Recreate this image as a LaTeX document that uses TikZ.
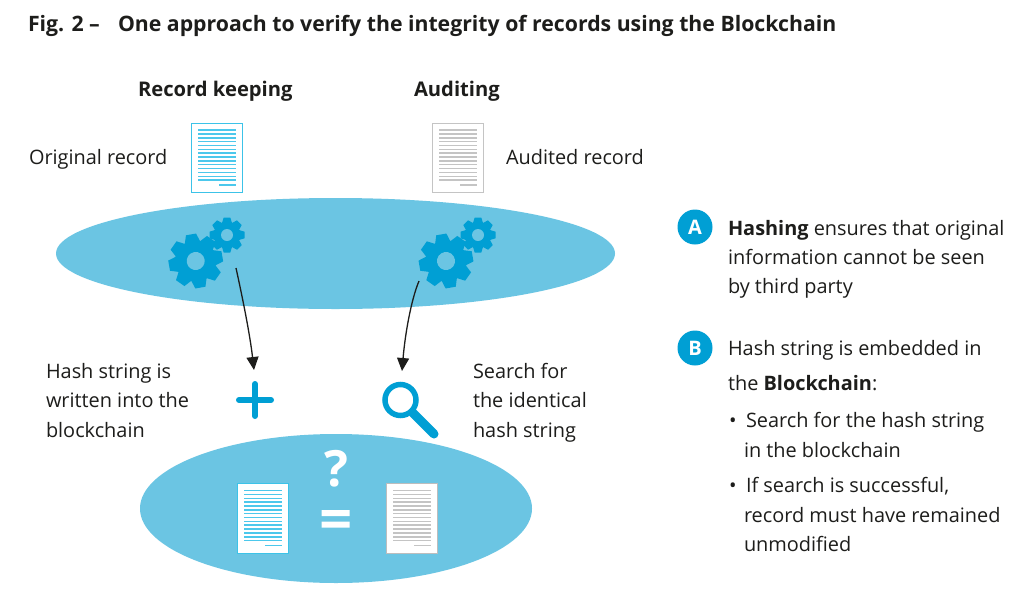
\documentclass[tikz,border=0pt]{standalone}
\usepackage{fontspec}
\setmainfont{Open Sans}
\usetikzlibrary{shapes.geometric,arrows.meta}
\definecolor{lagoon}{HTML}{6BC5E3}
\definecolor{deepblue}{HTML}{009FD4}
\definecolor{linecyan}{HTML}{3CC3E8}
\definecolor{linesoft}{HTML}{4CC8EC}
\definecolor{greyline}{HTML}{BDBDBD}
\definecolor{greysoft}{HTML}{C4C4C4}
\definecolor{inktext}{HTML}{1D1D1B}
\tikzset{
 blob/.style={ellipse,fill=lagoon,draw=none,inner sep=0pt},
 txt/.style={anchor=base west,inner sep=0pt,outer sep=0pt,text=inktext,font=\fontsize{19.9}{29.5}\selectfont},
 head/.style={txt,font=\fontsize{20.2}{29}\selectfont\bfseries},
 ttl/.style={txt,font=\fontsize{21.25}{26}\selectfont\bfseries},
 badge/.style={circle,fill=deepblue,text=white,minimum size=35pt,inner sep=0pt,font=\fontsize{20}{24}\selectfont\bfseries},
 flow/.style={draw=inktext,line width=1.3pt,-{Triangle[length=13pt,width=12pt]}},
 icon/.style={draw=deepblue,line cap=round}
}
% doc{name}{x}{y}{frame}{lines}
\newcommand{\docpage}[5]{%
 \node[draw=#4,line width=1.3pt,fill=white,minimum width=51pt,minimum height=69.5pt,inner sep=0pt,anchor=north west] (#1) at (#2,#3) {};
 \foreach \k in {0,...,13}{%
  \fill[#5] (#2+7,#3+6.8+\k*3.85) rectangle (#2+45,#3+8.3+\k*3.85);}
 \fill[#5] (#2+28,#3+61.8) rectangle (#2+45,#3+63.3);
}
% gear{cx}{cy}{body}{outer}{hole}{rot}
\newcommand{\gearicon}[6]{%
 \begin{scope}[shift={(#1,#2)},rotate=#6]
  \fill[deepblue] (0,0) circle[radius=#3];
  \foreach \a in {0,45,...,315}{
   \fill[deepblue,rotate=\a,line join=round] (-#4*0.29,#3*0.9) -- (-#4*0.19,#4) -- (#4*0.19,#4) -- (#4*0.29,#3*0.9) -- cycle;}
  \fill[lagoon] (0,0) circle[radius=#5];
 \end{scope}}
\begin{document}
\begin{tikzpicture}[x=1pt,y=-1pt]
\useasboundingbox (0,0) rectangle (1023,603);
\fill[white] (0,0) rectangle (1023,603);
\node[ttl] (figno) at (28,31) {Fig. 2 –};
\node[ttl] (title) at (118,31) {One approach to verify the integrity of records using the Blockchain};
\node[head] (rk) at (138,96) {Record keeping};
\node[head] (au) at (414,96) {Auditing};
\node[txt] (orig) at (29,164) {Original record};
\node[txt] (audr) at (506,164) {Audited record};

\node[blob,minimum width=559pt,minimum height=111pt] (top) at (335.5,253.5) {};
\node[blob,minimum width=392pt,minimum height=149pt] (bot) at (336,508.5) {};

\docpage{d1}{190.5}{122.5}{linecyan}{linesoft}
\docpage{d2}{431.5}{122.5}{greysoft}{greysoft}
\docpage{d3}{237}{483}{linecyan}{linesoft}
\docpage{d4}{385.5}{483}{greyline}{greysoft}

\gearicon{195.7}{261}{20.5}{27}{9}{10}
\gearicon{227}{235}{13}{17.5}{6}{0}
\gearicon{446}{261}{20.5}{27}{9}{10}
\gearicon{478}{235}{13}{17.5}{6}{0}

\coordinate (g1) at (236,268);
\coordinate (g2) at (419,281);
\node[inner sep=0pt,minimum size=36pt] (plus) at (255,400) {};
\draw[icon,line width=6pt] (255,384) -- (255,416) (239,400) -- (271,400);
\node[inner sep=0pt,minimum size=60pt] (lens) at (410,411) {};
\draw[icon,line width=5.5pt] (400.5,400) circle[radius=15.5];
\draw[icon,line width=9pt] (413,413) -- (434,434);
\coordinate (pe) at (254,370);
\coordinate (le) at (402,371);
\draw[flow] (g1) .. controls (243,300) and (250,335) .. (pe);
\draw[flow] (g2) .. controls (411,300) and (405,335) .. (le);

\node[txt] (hs1) at (46,378) {Hash string is};
\node[txt] (hs2) at (46,407.5) {written into the};
\node[txt] (hs3) at (46,437) {blockchain};
\node[txt] (sf1) at (473,378) {Search for};
\node[txt] (sf2) at (473,407.5) {the identical};
\node[txt] (sf3) at (473,437) {hash string};

\node[inner sep=0pt,text=white,font=\fontsize{50}{50}\selectfont\bfseries] (q) at (336,468.5) {?};
\node[inner sep=0pt,minimum width=28pt,minimum height=18pt] (eq) at (335.5,518.5) {};
\fill[white] (321.5,510) rectangle (349.5,516) (321.5,521.5) rectangle (349.5,527.5);

\node[badge] (A) at (695,227) {A};
\node[badge] (B) at (695,348) {B};
\node[txt] (ta1) at (728,235) {\textbf{Hashing} ensures that original};
\node[txt] (ta2) at (728,264) {information cannot be seen};
\node[txt] (ta3) at (728,293.5) {by third party};
\node[txt] (tb1) at (728,355.5) {Hash string is embedded in};
\node[txt] (tb2) at (728,390) {the \textbf{Blockchain}:};
\node[txt] (bu1) at (729,427.5) {•};
\node[txt] (tb3) at (746,427.5) {Search for the hash string};
\node[txt] (tb4) at (744,457) {in the blockchain};
\node[txt] (bu2) at (729,492.5) {•};
\node[txt] (tb5) at (746,492.5) {If search is successful,};
\node[txt] (tb6) at (744,522) {record must have remained};
\node[txt] (tb7) at (744,551.5) {unmodified};
\end{tikzpicture}
\end{document}
